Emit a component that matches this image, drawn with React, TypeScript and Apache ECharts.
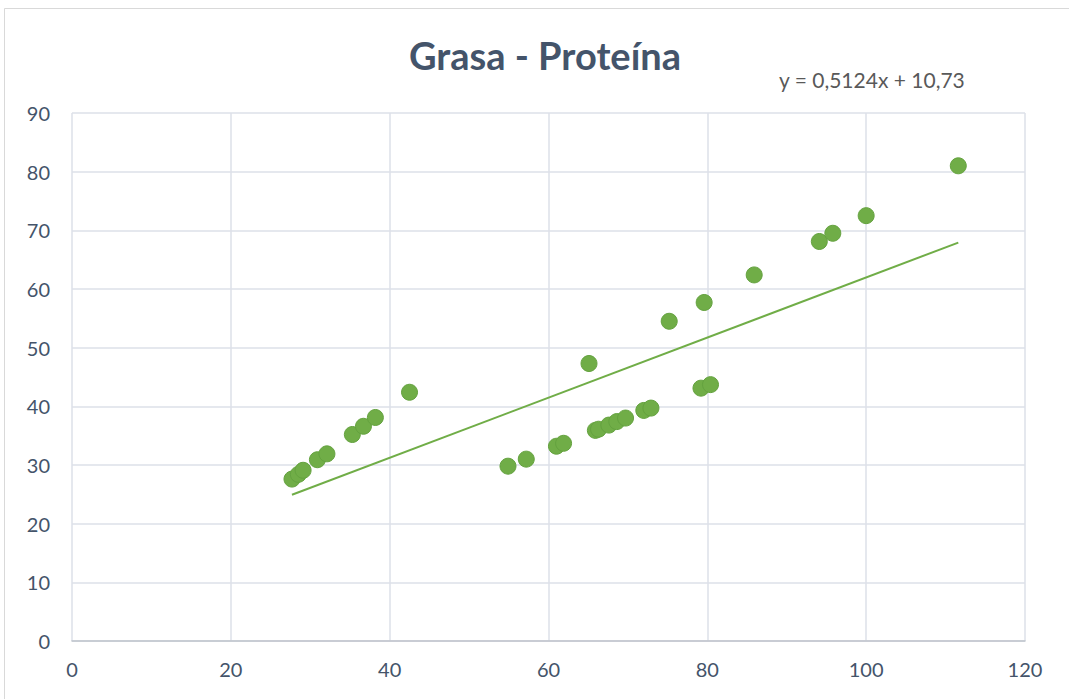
import React, { useEffect, useRef } from "react";
import * as echarts from "echarts";

const grasa = [27.7, 28.5, 29.1, 30.9, 32.1, 35.3, 36.7, 38.2, 42.5, 54.9, 57.2, 61.0, 61.9, 65.1, 65.9, 66.3, 67.6, 68.6, 69.7, 72.0, 72.9, 75.2, 79.6, 79.2, 80.4, 85.9, 94.1, 95.8, 100.0, 111.6];
const proteina = [27.6, 28.4, 29.1, 30.9, 31.9, 35.2, 36.6, 38.1, 42.4, 29.8, 31.0, 33.2, 33.7, 47.3, 35.9, 36.1, 36.8, 37.4, 38.0, 39.3, 39.7, 54.5, 57.7, 43.1, 43.7, 62.4, 68.1, 69.5, 72.5, 81.0];
const slope = 0.5124;
const intercept = 10.73;
const titleText = "Grasa - Proteína";
const equationText = "y = 0,5124x + 10,73";

export default function App() {
  const ref = useRef<HTMLDivElement>(null);
  useEffect(() => {
    if (!ref.current) return;
    const chart = echarts.init(ref.current, null, { renderer: "svg" });
    const points = grasa.map((x, i) => [x, proteina[i]]);
    const xMin = Math.min(...grasa);
    const xMax = Math.max(...grasa);
    const trend = [
      [xMin, slope * xMin + intercept],
      [xMax, slope * xMax + intercept],
    ];
    const font = "Lato, 'Open Sans', sans-serif";
    chart.setOption({
      animation: false,
      backgroundColor: "#ffffff",
      title: {
        text: titleText,
        left: 540,
        top: 31,
        textAlign: "center",
        textStyle: { fontFamily: font, fontSize: 38, fontWeight: "bold", color: "#44546A" },
      },
      graphic: [
        {
          type: "rect",
          shape: { x: 4.5, y: 8.5, width: 1100, height: 720 },
          style: { fill: "none", stroke: "#D9D9D9", lineWidth: 1 },
          silent: true,
        },
        {
          type: "text",
          left: 779,
          top: 69,
          style: { text: equationText, fontFamily: font, fontSize: 21, fill: "#595959" },
        },
      ],
      grid: { left: 72, right: 44, top: 113, bottom: 58, containLabel: false },
      xAxis: {
        type: "value",
        min: 0,
        max: 120,
        interval: 20,
        axisLine: { show: true, lineStyle: { color: "#BFC3CB", width: 1.5 } },
        axisTick: { show: false },
        splitLine: { show: true, lineStyle: { color: "#DDE1E8", width: 1.5 } },
        axisLabel: { fontFamily: font, fontSize: 20, color: "#44546A", margin: 18 },
      },
      yAxis: {
        type: "value",
        min: 0,
        max: 90,
        interval: 10,
        axisLine: { show: false },
        axisTick: { show: false },
        splitLine: { show: true, lineStyle: { color: "#DDE1E8", width: 1.5 } },
        axisLabel: { fontFamily: font, fontSize: 20, color: "#44546A", margin: 22 },
      },
      series: [
        {
          type: "scatter",
          data: points,
          symbolSize: 16,
          itemStyle: { color: "#70AD47", borderColor: "#64A23F", borderWidth: 1, opacity: 1 },
          z: 3,
        },
        {
          type: "line",
          data: trend,
          symbol: "none",
          lineStyle: { color: "#70AD47", width: 2 },
          z: 2,
        },
      ],
    });
    return () => chart.dispose();
  }, []);
  return (
    <div
      ref={ref}
      style={{ position: "fixed", left: 0, top: 0, width: 1069, height: 699 }}
    />
  );
}
